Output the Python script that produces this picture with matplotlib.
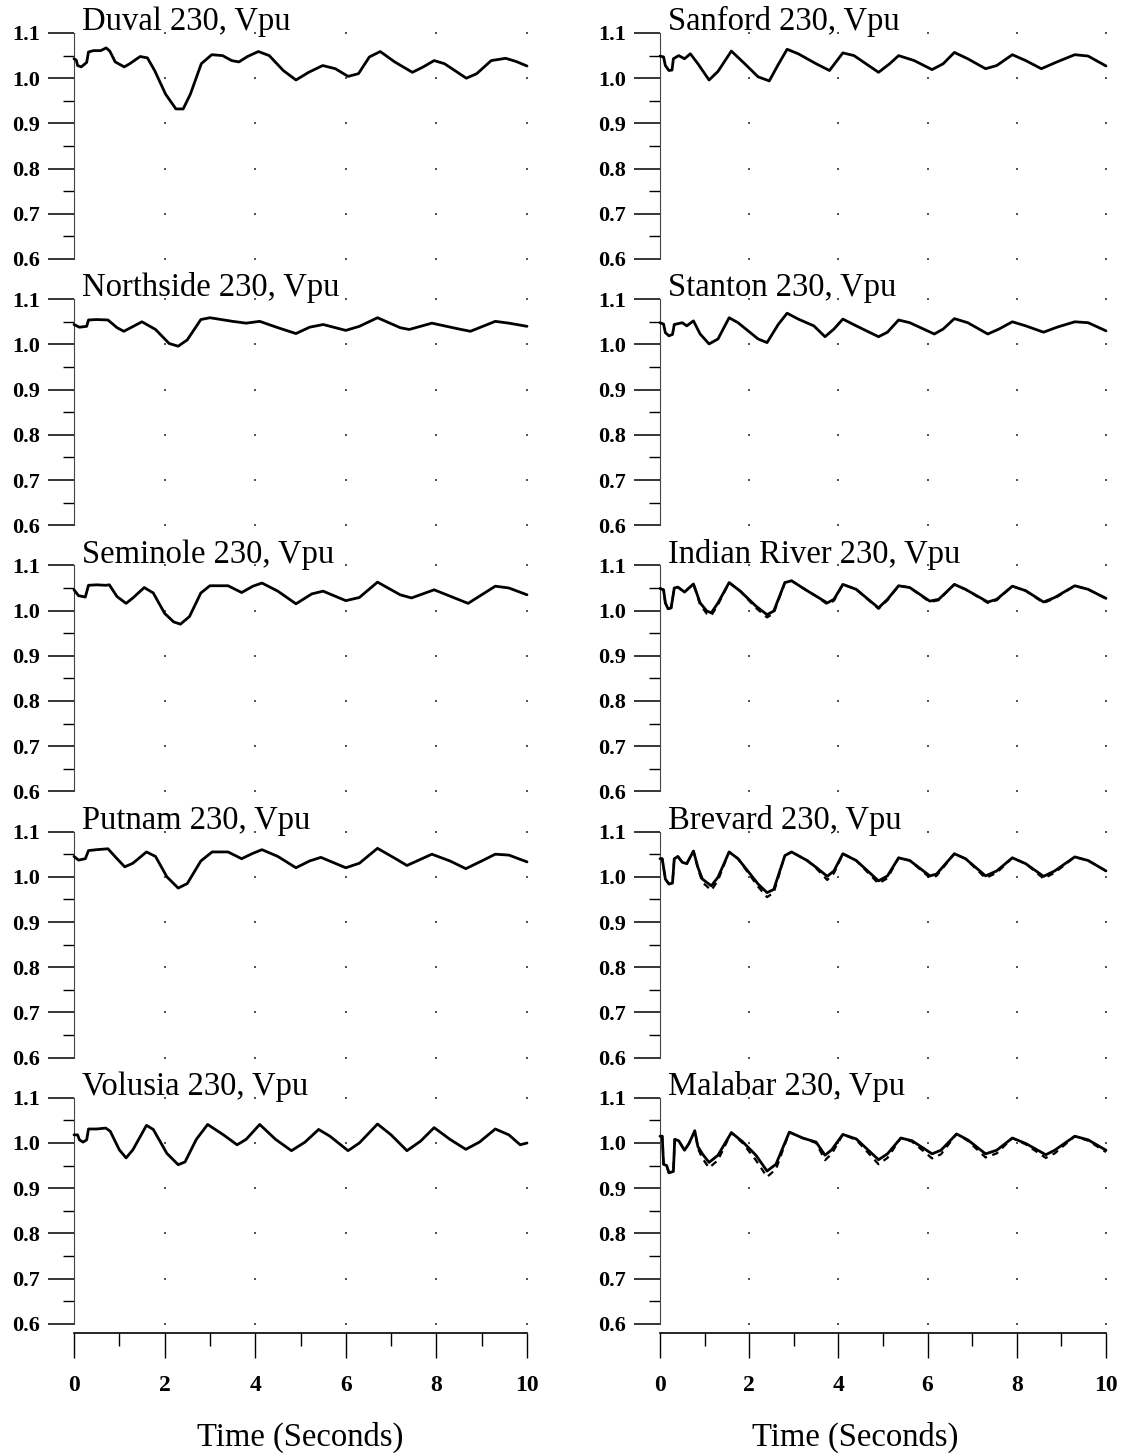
import matplotlib
matplotlib.use("Agg")
import matplotlib.pyplot as plt
import numpy as np
from matplotlib.ticker import MultipleLocator

plt.rcParams['font.family'] = ['Liberation Serif', 'DejaVu Serif']

# ---------------- data ----------------
duval_t = [0, 0.05, 0.08, 0.16, 0.28, 0.32, 0.43, 0.59, 0.71, 0.79, 0.91, 1.11, 1.23, 1.46, 1.62, 1.78, 2.02, 2.25, 2.41, 2.57, 2.81, 3.04, 3.28, 3.48, 3.64, 3.83, 4.07, 4.31, 4.62, 4.90, 5.18, 5.49, 5.77, 6.05, 6.28, 6.52, 6.76, 7.08, 7.47, 7.71, 7.95, 8.18, 8.66, 8.89, 9.21, 9.53, 9.76, 10.0]
duval_v = [1.043, 1.040, 1.028, 1.025, 1.035, 1.058, 1.061, 1.061, 1.067, 1.060, 1.036, 1.025, 1.032, 1.048, 1.045, 1.017, 0.965, 0.932, 0.932, 0.965, 1.032, 1.052, 1.050, 1.039, 1.036, 1.048, 1.059, 1.050, 1.017, 0.996, 1.013, 1.028, 1.021, 1.004, 1.010, 1.047, 1.059, 1.036, 1.013, 1.025, 1.039, 1.032, 1.000, 1.010, 1.039, 1.044, 1.037, 1.027]

northside_t = [0, 0.12, 0.28, 0.32, 0.5, 0.75, 0.95, 1.1, 1.5, 1.8, 2.1, 2.3, 2.5, 2.8, 3.0, 3.5, 3.8, 4.1, 4.5, 4.9, 5.2, 5.5, 6.0, 6.3, 6.7, 7.2, 7.4, 7.9, 8.5, 8.75, 9.3, 9.6, 10.0]
northside_v = [1.044, 1.038, 1.040, 1.054, 1.055, 1.054, 1.037, 1.029, 1.050, 1.033, 1.002, 0.996, 1.010, 1.055, 1.059, 1.051, 1.047, 1.051, 1.037, 1.024, 1.038, 1.044, 1.031, 1.040, 1.059, 1.037, 1.033, 1.047, 1.034, 1.029, 1.051, 1.047, 1.040]

seminole_t = [0, 0.1, 0.25, 0.32, 0.5, 0.7, 0.78, 0.95, 1.15, 1.3, 1.55, 1.75, 2.0, 2.2, 2.35, 2.55, 2.8, 3.0, 3.4, 3.7, 3.95, 4.15, 4.5, 4.9, 5.25, 5.5, 6.0, 6.3, 6.7, 7.2, 7.45, 7.95, 8.4, 8.7, 9.0, 9.3, 9.6, 10.0]
seminole_v = [1.046, 1.033, 1.030, 1.056, 1.057, 1.056, 1.057, 1.031, 1.016, 1.028, 1.051, 1.039, 0.994, 0.975, 0.970, 0.987, 1.039, 1.055, 1.055, 1.040, 1.054, 1.061, 1.043, 1.015, 1.037, 1.043, 1.022, 1.029, 1.063, 1.035, 1.028, 1.046, 1.028, 1.016, 1.035, 1.054, 1.050, 1.035]

putnam_t = [0, 0.1, 0.25, 0.32, 0.5, 0.75, 0.95, 1.12, 1.3, 1.6, 1.8, 2.05, 2.3, 2.5, 2.8, 3.05, 3.4, 3.7, 3.95, 4.15, 4.5, 4.9, 5.2, 5.45, 6.0, 6.3, 6.7, 7.1, 7.35, 7.9, 8.3, 8.65, 9.0, 9.3, 9.6, 10.0]
putnam_v = [1.045, 1.037, 1.040, 1.058, 1.060, 1.062, 1.040, 1.022, 1.030, 1.055, 1.045, 1.000, 0.975, 0.985, 1.035, 1.055, 1.055, 1.040, 1.052, 1.060, 1.045, 1.020, 1.035, 1.043, 1.020, 1.030, 1.063, 1.040, 1.025, 1.050, 1.035, 1.018, 1.035, 1.050, 1.048, 1.033]

volusia_t = [0, 0.08, 0.12, 0.2, 0.28, 0.32, 0.5, 0.7, 0.8, 1.0, 1.15, 1.3, 1.6, 1.75, 2.05, 2.3, 2.45, 2.7, 2.95, 3.3, 3.6, 3.8, 4.1, 4.45, 4.8, 5.1, 5.4, 5.65, 6.05, 6.3, 6.7, 7.0, 7.35, 7.65, 7.95, 8.3, 8.65, 8.95, 9.3, 9.6, 9.85, 10.0]
volusia_v = [1.018, 1.018, 1.007, 1.002, 1.007, 1.031, 1.031, 1.033, 1.026, 0.985, 0.967, 0.985, 1.039, 1.030, 0.977, 0.952, 0.958, 1.008, 1.041, 1.018, 0.996, 1.008, 1.041, 1.008, 0.983, 1.002, 1.030, 1.015, 0.983, 1.000, 1.042, 1.018, 0.983, 1.004, 1.034, 1.008, 0.986, 1.002, 1.031, 1.018, 0.996, 1.000]

sanford_t = [0, 0.08, 0.12, 0.2, 0.27, 0.3, 0.42, 0.55, 0.68, 0.85, 1.1, 1.3, 1.6, 1.9, 2.2, 2.45, 2.65, 2.85, 3.1, 3.5, 3.8, 4.1, 4.35, 4.9, 5.15, 5.35, 5.7, 6.1, 6.35, 6.6, 6.9, 7.3, 7.55, 7.9, 8.2, 8.55, 8.9, 9.3, 9.6, 10.0]
sanford_v = [1.049, 1.047, 1.028, 1.017, 1.018, 1.043, 1.050, 1.043, 1.054, 1.032, 0.996, 1.015, 1.060, 1.032, 1.003, 0.994, 1.030, 1.064, 1.054, 1.032, 1.017, 1.056, 1.050, 1.013, 1.032, 1.050, 1.039, 1.019, 1.032, 1.057, 1.043, 1.021, 1.028, 1.052, 1.039, 1.021, 1.036, 1.052, 1.049, 1.027]

stanton_t = [0, 0.08, 0.12, 0.2, 0.28, 0.32, 0.5, 0.6, 0.75, 0.9, 1.1, 1.3, 1.55, 1.75, 2.2, 2.4, 2.65, 2.85, 3.1, 3.45, 3.7, 3.9, 4.1, 4.4, 4.9, 5.1, 5.35, 5.6, 6.15, 6.35, 6.6, 6.9, 7.35, 7.6, 7.9, 8.2, 8.6, 8.9, 9.3, 9.6, 10.0]
stanton_v = [1.048, 1.045, 1.026, 1.019, 1.022, 1.044, 1.048, 1.041, 1.052, 1.023, 1.001, 1.012, 1.059, 1.048, 1.012, 1.004, 1.044, 1.069, 1.056, 1.041, 1.017, 1.034, 1.056, 1.041, 1.017, 1.027, 1.054, 1.048, 1.023, 1.034, 1.057, 1.048, 1.023, 1.034, 1.050, 1.041, 1.027, 1.038, 1.050, 1.048, 1.030]

indian_t = [0, 0.08, 0.12, 0.18, 0.25, 0.32, 0.4, 0.55, 0.75, 0.9, 1.05, 1.15, 1.3, 1.55, 1.8, 2.15, 2.4, 2.55, 2.8, 2.95, 3.25, 3.5, 3.75, 3.9, 4.1, 4.4, 4.9, 5.1, 5.35, 5.6, 6.05, 6.25, 6.6, 6.85, 7.35, 7.55, 7.9, 8.2, 8.6, 8.85, 9.3, 9.6, 10.0]
indian_v = [1.049, 1.046, 1.017, 1.004, 1.006, 1.050, 1.052, 1.041, 1.059, 1.017, 0.999, 0.995, 1.017, 1.062, 1.043, 1.010, 0.991, 0.999, 1.062, 1.066, 1.047, 1.032, 1.017, 1.025, 1.058, 1.047, 1.006, 1.025, 1.055, 1.051, 1.021, 1.025, 1.058, 1.047, 1.019, 1.025, 1.054, 1.044, 1.019, 1.029, 1.055, 1.047, 1.027]
indian_dash_v = [1.049, 1.046, 1.017, 1.004, 1.006, 1.050, 1.052, 1.041, 1.059, 1.013, 0.993, 0.989, 1.013, 1.062, 1.043, 1.006, 0.985, 0.994, 1.062, 1.066, 1.047, 1.032, 1.014, 1.022, 1.058, 1.047, 1.004, 1.023, 1.055, 1.051, 1.019, 1.023, 1.058, 1.047, 1.017, 1.023, 1.054, 1.044, 1.017, 1.027, 1.055, 1.047, 1.027]

brevard_t = [0, 0.05, 0.08, 0.12, 0.2, 0.28, 0.32, 0.4, 0.5, 0.6, 0.75, 0.85, 0.95, 1.15, 1.3, 1.55, 1.75, 2.2, 2.4, 2.55, 2.8, 2.95, 3.3, 3.5, 3.75, 3.9, 4.1, 4.4, 4.9, 5.1, 5.35, 5.6, 6.05, 6.2, 6.6, 6.85, 7.3, 7.55, 7.9, 8.2, 8.6, 8.85, 9.3, 9.6, 10.0]
brevard_v = [1.040, 1.040, 1.021, 0.995, 0.984, 0.986, 1.040, 1.045, 1.032, 1.029, 1.057, 1.021, 0.995, 0.980, 0.999, 1.055, 1.040, 0.984, 0.965, 0.972, 1.047, 1.055, 1.036, 1.021, 1.001, 1.013, 1.051, 1.036, 0.991, 1.002, 1.042, 1.036, 1.002, 1.006, 1.051, 1.040, 1.002, 1.013, 1.042, 1.029, 1.001, 1.013, 1.044, 1.036, 1.013]
brevard_dash_v = [1.040, 1.040, 1.021, 0.995, 0.984, 0.986, 1.040, 1.045, 1.032, 1.029, 1.057, 1.018, 0.988, 0.970, 0.992, 1.055, 1.040, 0.978, 0.955, 0.965, 1.047, 1.055, 1.036, 1.019, 0.993, 1.008, 1.051, 1.036, 0.985, 0.997, 1.042, 1.036, 0.998, 1.002, 1.051, 1.040, 0.997, 1.009, 1.042, 1.029, 0.996, 1.009, 1.044, 1.036, 1.013]

malabar_t = [0, 0.05, 0.08, 0.15, 0.2, 0.3, 0.33, 0.42, 0.55, 0.65, 0.78, 0.85, 0.95, 1.1, 1.3, 1.6, 1.85, 2.15, 2.4, 2.6, 2.9, 3.2, 3.5, 3.7, 3.85, 4.1, 4.4, 4.9, 5.1, 5.4, 5.65, 6.1, 6.3, 6.65, 6.9, 7.3, 7.55, 7.9, 8.2, 8.65, 8.85, 9.3, 9.6, 10.0]
malabar_v = [1.015, 1.015, 0.953, 0.950, 0.934, 0.937, 1.008, 1.005, 0.984, 0.999, 1.027, 0.992, 0.976, 0.957, 0.973, 1.023, 1.003, 0.973, 0.938, 0.953, 1.024, 1.011, 1.002, 0.973, 0.985, 1.019, 1.009, 0.963, 0.976, 1.011, 1.005, 0.976, 0.984, 1.020, 1.007, 0.976, 0.984, 1.011, 0.999, 0.974, 0.984, 1.015, 1.007, 0.984]
malabar_dash_v = [1.015, 1.015, 0.953, 0.950, 0.934, 0.937, 1.008, 1.005, 0.984, 0.999, 1.027, 0.988, 0.966, 0.945, 0.962, 1.023, 1.000, 0.962, 0.925, 0.942, 1.024, 1.011, 1.000, 0.962, 0.976, 1.019, 1.007, 0.953, 0.967, 1.011, 1.003, 0.966, 0.975, 1.020, 1.005, 0.968, 0.977, 1.011, 0.997, 0.967, 0.977, 1.015, 1.005, 0.980]

left_names = ["Duval 230, Vpu", "Northside 230, Vpu", "Seminole 230, Vpu", "Putnam 230, Vpu", "Volusia 230, Vpu"]
right_names = ["Sanford 230, Vpu", "Stanton 230, Vpu", "Indian River 230, Vpu", "Brevard 230, Vpu", "Malabar 230, Vpu"]
left_series = [(duval_t, duval_v, None), (northside_t, northside_v, None), (seminole_t, seminole_v, None),
               (putnam_t, putnam_v, None), (volusia_t, volusia_v, None)]
right_series = [(sanford_t, sanford_v, None), (stanton_t, stanton_v, None), (indian_t, indian_v, indian_dash_v),
                (brevard_t, brevard_v, brevard_dash_v), (malabar_t, malabar_v, malabar_dash_v)]

y_ticks = [0.6, 0.7, 0.8, 0.9, 1.0, 1.1]
y_tick_labels = ["0.6", "0.7", "0.8", "0.9", "1.0", "1.1"]
x_ticks = [0, 2, 4, 6, 8, 10]
x_label = "Time (Seconds)"

# ---------------- layout ----------------
W, H = 1128, 1455
fig = plt.figure(figsize=(W / 100, H / 100), dpi=100)

col_x = [(74, 527), (660, 1106)]
panel_top0 = 33
panel_step = 266.2
panel_h = 226

def px_rect(x0, x1, top, h):
    return [x0 / W, 1 - (top + h) / H, (x1 - x0) / W, h / H]

for c, (names, series) in enumerate([(left_names, left_series), (right_names, right_series)]):
    x0, x1 = col_x[c]
    for i in range(5):
        top = panel_top0 + i * panel_step
        ax = fig.add_axes(px_rect(x0, x1, top, panel_h))
        t, v, vd = series[i]
        if vd is not None:
            ax.plot(t, vd, color='black', lw=1.6, ls=(0, (3, 2.5)), clip_on=False, zorder=3)
        ax.plot(t, v, color='black', lw=2.0, clip_on=False, zorder=4,
                solid_joinstyle='round', solid_capstyle='round')
        ax.set_xlim(0, 10)
        ax.set_ylim(0.6, 1.1)
        for s in ['top', 'right', 'bottom']:
            ax.spines[s].set_visible(False)
        ax.spines['left'].set_linewidth(0.8)
        ax.spines['left'].set_color('#444444')
        ax.set_yticks(y_ticks)
        ax.set_yticklabels(y_tick_labels, fontsize=16, fontweight='bold')
        ax.yaxis.set_minor_locator(MultipleLocator(0.05))
        ax.tick_params(axis='y', which='major', direction='out', length=18.5, width=1.1, pad=6, colors='black')
        ax.tick_params(axis='y', which='minor', direction='out', length=8, width=1.0, color='black')
        ax.set_xticks([])
        # dotted grid as dots at intersections
        gx, gy = np.meshgrid(x_ticks[1:], y_ticks)
        ax.plot(gx.ravel(), gy.ravel(), linestyle='none', marker='s', markersize=1.6,
                color='#555555', markeredgewidth=0, clip_on=False, zorder=1)
        ax.annotate(names[i], xy=(0, 1.1), xycoords=('axes fraction', 'data'),
                    xytext=(6, 2), textcoords='offset points', fontsize=23.5,
                    ha='left', va='baseline')
        ax.patch.set_alpha(0)

    # bottom time axis
    axb = fig.add_axes(px_rect(x0, x1, 1332, 1))
    axb.set_xlim(0, 10)
    axb.set_ylim(0, 1)
    for s in ['top', 'right', 'left']:
        axb.spines[s].set_visible(False)
    axb.spines['bottom'].set_linewidth(1.2)
    axb.set_yticks([])
    axb.set_xticks(x_ticks)
    axb.set_xticklabels([str(v) for v in x_ticks], fontsize=17, fontweight='bold')
    axb.xaxis.set_minor_locator(MultipleLocator(1))
    axb.tick_params(axis='x', which='major', direction='out', length=18, width=1.0, pad=12)
    axb.tick_params(axis='x', which='minor', direction='out', length=9, width=1.0)
    axb.patch.set_alpha(0)

fig.text(300 / W, 1 - 1437 / H, x_label, fontsize=23.5, ha='center', va='center')
fig.text(855 / W, 1 - 1437 / H, x_label, fontsize=23.5, ha='center', va='center')

fig.savefig("out.png", dpi=100)
